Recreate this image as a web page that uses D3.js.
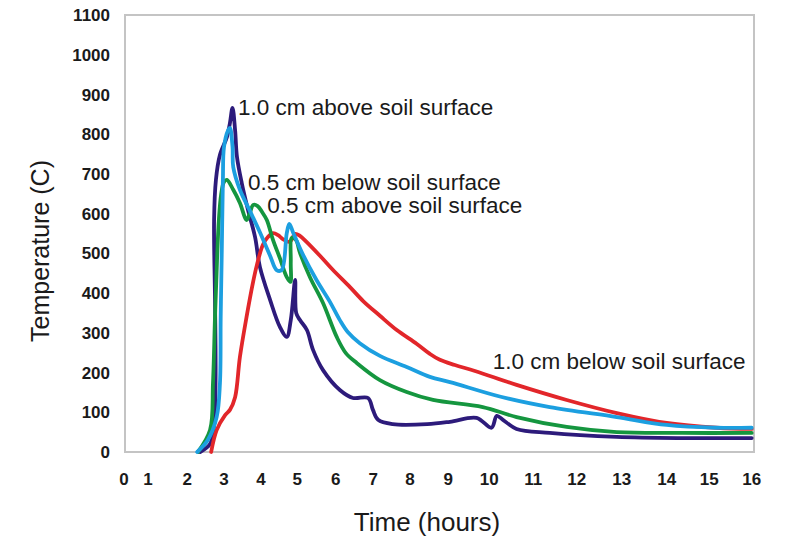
<!DOCTYPE html>
<html>
<head>
<meta charset="utf-8">
<script src="https://cdn.jsdelivr.net/npm/d3@7"></script>
<style>
  body { margin: 0; background: #fff; }
  svg { display: block; }
</style>
</head>
<body>
<div id="chart"></div>
<script>
// Temperature readings (hours, degrees C)
const above10 = [
  [2.35, 0], [2.62, 20], [2.73, 68], [2.77, 181], [2.755, 383], [2.73, 584],
  [2.78, 685], [2.89, 748], [3.08, 793], [3.16, 828], [3.23, 866], [3.30, 810],
  [3.35, 743], [3.48, 677], [3.65, 609], [3.84, 541], [3.97, 466], [4.25, 383],
  [4.52, 315], [4.71, 290], [4.82, 332], [4.94, 433], [4.97, 350], [5.07, 332],
  [5.25, 307], [5.41, 257], [5.67, 206], [6.11, 156], [6.46, 136], [6.86, 136],
  [6.99, 106], [7.13, 81], [7.53, 70], [8.45, 70], [9.04, 76], [9.69, 86],
  [10.05, 61], [10.17, 91], [10.31, 81], [10.62, 58], [11.38, 48], [12.89, 38],
  [14.36, 35], [16.0, 35]
];
const above05 = [
  [2.27, 0], [2.56, 30], [2.80, 88], [2.89, 174], [2.91, 340], [2.94, 508],
  [2.97, 685], [3.0, 768], [3.11, 810], [3.16, 816], [3.23, 768], [3.25, 717],
  [3.43, 660], [3.70, 607], [3.97, 553], [4.25, 494], [4.43, 458], [4.57, 458],
  [4.71, 551], [4.78, 574], [4.89, 551], [5.15, 496], [5.50, 433], [5.85, 378],
  [6.11, 332], [6.32, 302], [6.64, 274], [7.18, 242], [7.91, 214], [8.52, 189],
  [9.04, 176], [10.26, 139], [11.38, 113], [12.89, 88], [14.0, 68], [15.17, 61],
  [16.0, 61]
];
const below05 = [
  [2.29, 0], [2.62, 55], [2.70, 174], [2.755, 340], [2.81, 483], [2.86, 584],
  [2.92, 647], [3.0, 680], [3.08, 685], [3.25, 660], [3.43, 627], [3.61, 584],
  [3.70, 602], [3.79, 622], [3.91, 619], [4.03, 604], [4.16, 584], [4.33, 534],
  [4.52, 488], [4.71, 440], [4.81, 428], [4.82, 478], [4.85, 539], [4.96, 534],
  [5.07, 501], [5.33, 440], [5.67, 375], [6.03, 289], [6.27, 249], [6.56, 224],
  [7.18, 181], [7.91, 151], [8.60, 131], [9.84, 113], [10.62, 88], [11.77, 63],
  [12.89, 50], [14.36, 48], [16.0, 48]
];
const below10 = [
  [2.65, 0], [2.80, 55], [3.03, 93], [3.16, 106], [3.30, 138], [3.43, 239],
  [3.61, 340], [3.78, 425], [3.89, 471], [4.05, 521], [4.19, 541], [4.33, 551],
  [4.47, 546], [4.60, 536], [4.79, 529], [4.94, 549], [5.07, 544], [5.24, 529],
  [5.59, 494], [5.93, 458], [6.38, 415], [6.73, 380], [7.18, 343], [7.64, 307],
  [8.18, 272], [8.52, 247], [8.78, 232], [9.16, 219], [9.65, 204], [10.62, 169],
  [11.77, 131], [12.89, 98], [14.0, 73], [15.17, 61], [16.0, 58]
];

const series = [
  { name: "1.0 cm above soil surface", values: above10, color: "#2d1b7b" },
  { name: "1.0 cm below soil surface", values: below10, color: "#e2262a" },
  { name: "0.5 cm below soil surface", values: below05, color: "#15963f" },
  { name: "0.5 cm above soil surface", values: above05, color: "#1c9fe0" }
];

const xTicks = d3.range(0, 17);
const yTicks = d3.range(0, 1200, 100);

// Curve labels: text, hours, degrees C at the text baseline start
const labels = [
  ["1.0 cm above soil surface", 3.38, 848],
  ["0.5 cm below soil surface", 3.65, 659],
  ["0.5 cm above soil surface", 4.17, 602],
  ["1.0 cm below soil surface", 10.08, 209]
];

// hour ticks in the original are hand placed, so the axis is piecewise
const xStopsPx = [124, 148, 187.3, 224, 261, 297.3, 335.7, 373.3, 410,
  448.3, 489.3, 533.3, 576.7, 621.7, 666.7, 709.3, 751.7];

const width = 787, height = 539;
const plot = { left: 125, right: 754, top: 15, bottom: 452 };

const svg = d3.select("#chart").append("svg")
  .attr("width", width)
  .attr("height", height);

const x = d3.scaleLinear().domain(xTicks).range(xStopsPx);
const y = d3.scaleLinear().domain([0, 1100]).range([plot.bottom, plot.top]);

// frame
svg.append("rect")
  .attr("x", plot.left)
  .attr("y", plot.top)
  .attr("width", plot.right - plot.left)
  .attr("height", plot.bottom - plot.top)
  .attr("fill", "none")
  .attr("stroke", "#c4c4c4")
  .attr("stroke-width", 2);

// y tick labels
svg.append("g")
  .selectAll("text")
  .data(yTicks)
  .enter()
  .append("text")
  .attr("x", 110)
  .attr("y", d => y(d))
  .attr("dy", "0.36em")
  .attr("text-anchor", "end")
  .style("font-family", "Liberation Sans, Arial, sans-serif")
  .style("font-weight", "bold")
  .style("font-size", "17px")
  .style("fill", "#1a1a1a")
  .text(d => d);

// x tick labels
svg.append("g")
  .selectAll("text")
  .data(xTicks)
  .enter()
  .append("text")
  .attr("x", d => x(d))
  .attr("y", 485)
  .attr("text-anchor", "middle")
  .style("font-family", "Liberation Sans, Arial, sans-serif")
  .style("font-weight", "bold")
  .style("font-size", "17px")
  .style("fill", "#1a1a1a")
  .text(d => d);

// axis titles
svg.append("text")
  .attr("transform", "translate(49, 251) rotate(-90)")
  .attr("text-anchor", "middle")
  .style("font-family", "Liberation Sans, Arial, sans-serif")
  .style("font-size", "25px")
  .style("fill", "#1a1a1a")
  .text("Temperature (C)");

svg.append("text")
  .attr("x", 427)
  .attr("y", 531)
  .attr("text-anchor", "middle")
  .style("font-family", "Liberation Sans, Arial, sans-serif")
  .style("font-size", "26px")
  .style("fill", "#1a1a1a")
  .text("Time (hours)");

// curves
const line = d3.line()
  .x(d => x(d[0]))
  .y(d => y(d[1]))
  .curve(d3.curveCatmullRom.alpha(0.5));

svg.append("g")
  .selectAll("path")
  .data(series)
  .enter()
  .append("path")
  .attr("d", d => line(d.values))
  .attr("fill", "none")
  .attr("stroke", d => d.color)
  .attr("stroke-width", 3.8)
  .attr("stroke-linejoin", "round")
  .attr("stroke-linecap", "round");

// curve labels
svg.append("g")
  .selectAll("text")
  .data(labels)
  .enter()
  .append("text")
  .attr("x", d => x(d[1]))
  .attr("y", d => y(d[2]))
  .style("font-family", "Liberation Sans, Arial, sans-serif")
  .style("font-size", "22.5px")
  .style("fill", "#1a1a1a")
  .text(d => d[0]);
</script>
</body>
</html>
